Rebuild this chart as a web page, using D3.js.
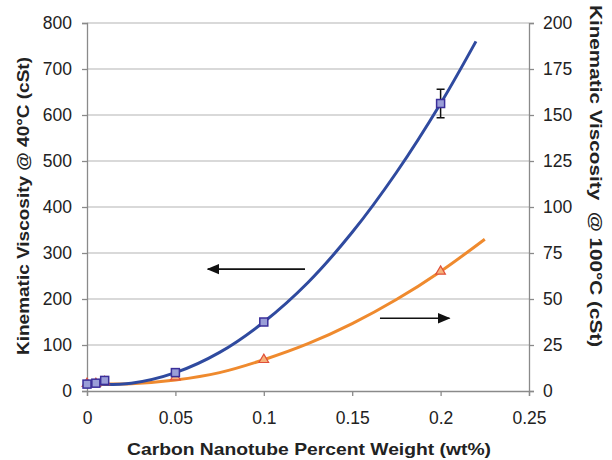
<!DOCTYPE html>
<html>
<head>
<meta charset="utf-8">
<script src="https://cdn.jsdelivr.net/npm/d3@7"></script>
<style>
  body { margin: 0; background: #fff; }
  text { font-family: "Liberation Sans", Arial, sans-serif; }
</style>
</head>
<body>
<div class="chart"></div>
<script>
// measured points
var wt = [0, 0.005, 0.01, 0.05, 0.1, 0.2];
var visc40 = [15, 17, 23, 40, 150, 625];
var visc100 = [4, 4, 5, 7.6, 17, 65];
var err40 = [0, 0, 0, 0, 0, 31];

// trend lines
var fit40x = [0, 0.025, 0.05, 0.075, 0.1, 0.125, 0.15, 0.175, 0.2, 0.22];
var fit40y = [15, 17, 40, 84, 150, 236, 345, 475, 625, 760];
var fit100x = [0, 0.025, 0.05, 0.075, 0.1, 0.125, 0.15, 0.175, 0.2, 0.225];
var fit100y = [4, 4, 6, 10, 17, 25.7, 36.6, 49.7, 65, 82.5];

var xTicks = [0, 0.05, 0.1, 0.15, 0.2, 0.25];
var yLeftTicks = [0, 100, 200, 300, 400, 500, 600, 700, 800];
var yRightTicks = [0, 25, 50, 75, 100, 125, 150, 175, 200];

var width = 612, height = 460;
var margin = {top: 23, right: 83, bottom: 69, left: 87};

var svg = d3.select(".chart").append("svg")
    .attr("width", width)
    .attr("height", height);

var x = d3.scaleLinear().domain([0, 0.25]).range([margin.left, width - margin.right]);
var yL = d3.scaleLinear().domain([0, 800]).range([height - margin.bottom, margin.top]);
var yR = d3.scaleLinear().domain([0, 200]).range([height - margin.bottom, margin.top]);

var blue = "#2f4a9f", orange = "#ef8a2e";

// gridlines
svg.append("g")
    .selectAll("line")
    .data(yLeftTicks.slice(1))
    .enter().append("line")
    .attr("x1", x(0)).attr("x2", x(0.25))
    .attr("y1", d => yL(d)).attr("y2", d => yL(d))
    .attr("stroke", "#cccccc").attr("stroke-width", 1.3);

// axes
var axisStyle = function (g) {
    g.select(".domain").attr("stroke", "#8a8a8a").attr("stroke-width", 1.3);
    g.selectAll(".tick line").attr("stroke", "#8a8a8a").attr("stroke-width", 1.3);
    g.selectAll(".tick text").attr("fill", "#222").style("font-size", "17.5px")
        .style("font-family", "'Liberation Sans', Arial, sans-serif");
};

svg.append("g")
    .attr("transform", "translate(0," + yL(0) + ")")
    .call(d3.axisBottom(x).tickValues(xTicks).tickFormat(d3.format("")).tickSizeOuter(0).tickSize(5).tickPadding(16))
    .call(axisStyle);

svg.append("g")
    .attr("transform", "translate(" + x(0) + ",0)")
    .call(d3.axisLeft(yL).tickValues(yLeftTicks).tickFormat(d3.format("d")).tickSizeOuter(0).tickSize(5).tickPadding(10))
    .call(axisStyle);

svg.append("g")
    .attr("transform", "translate(" + x(0.25) + ",0)")
    .call(d3.axisRight(yR).tickValues(yRightTicks).tickFormat(d3.format("d")).tickSizeOuter(0).tickSize(5).tickPadding(9))
    .call(axisStyle);

// axis titles
var titleStyle = function (t) {
    t.attr("text-anchor", "middle")
        .attr("lengthAdjust", "spacingAndGlyphs")
        .style("font-size", "16.5px").style("font-weight", "bold").attr("fill", "#222");
};

svg.append("text")
    .attr("x", 309)
    .attr("y", 455)
    .attr("textLength", 364)
    .call(titleStyle)
    .text("Carbon Nanotube Percent Weight (wt%)");

svg.append("text")
    .attr("transform", "translate(29,206) rotate(-90)")
    .attr("textLength", 298)
    .call(titleStyle)
    .text("Kinematic Viscosity @ 40°C (cSt)");

svg.append("text")
    .attr("transform", "translate(590,176) rotate(90)")
    .attr("textLength", 342)
    .attr("xml:space", "preserve")
    .style("white-space", "pre")
    .call(titleStyle)
    .text("Kinematic Viscosity  @ 100°C (cSt)");

// trend lines
var line40 = d3.line().x(d => x(d[0])).y(d => yL(d[1])).curve(d3.curveCatmullRom);
var line100 = d3.line().x(d => x(d[0])).y(d => yR(d[1])).curve(d3.curveCatmullRom);

svg.append("path")
    .datum(d3.zip(fit100x, fit100y))
    .attr("d", line100)
    .attr("fill", "none").attr("stroke", orange).attr("stroke-width", 3);

svg.append("path")
    .datum(d3.zip(fit40x, fit40y))
    .attr("d", line40)
    .attr("fill", "none").attr("stroke", blue).attr("stroke-width", 3);

// error bars
var eb = svg.append("g").selectAll("g")
    .data(d3.zip(wt, visc40, err40).filter(d => d[2] > 0))
    .enter().append("g")
    .attr("stroke", "#111").attr("stroke-width", 1.5);
eb.append("line")
    .attr("x1", d => x(d[0])).attr("x2", d => x(d[0]))
    .attr("y1", d => yL(d[1] - d[2])).attr("y2", d => yL(d[1] + d[2]));
eb.append("line")
    .attr("x1", d => x(d[0]) - 4).attr("x2", d => x(d[0]) + 4)
    .attr("y1", d => yL(d[1] - d[2])).attr("y2", d => yL(d[1] - d[2]));
eb.append("line")
    .attr("x1", d => x(d[0]) - 4).attr("x2", d => x(d[0]) + 4)
    .attr("y1", d => yL(d[1] + d[2])).attr("y2", d => yL(d[1] + d[2]));

// markers
var tri = d3.symbol().type(d3.symbolTriangle).size(40);
svg.append("g").selectAll("path")
    .data(d3.zip(wt, visc100))
    .enter().append("path")
    .attr("d", tri)
    .attr("transform", d => "translate(" + x(d[0]) + "," + yR(d[1]) + ")")
    .attr("fill", "#f6b27a").attr("stroke", "#e0503a").attr("stroke-width", 1.2);

svg.append("g").selectAll("rect")
    .data(d3.zip(wt, visc40))
    .enter().append("rect")
    .attr("x", d => x(d[0]) - 4).attr("y", d => yL(d[1]) - 4)
    .attr("width", 8).attr("height", 8)
    .attr("fill", "#9a9ed8").attr("stroke", "#3b2f9a").attr("stroke-width", 1.5);

// arrows pointing to each axis
svg.append("defs").append("marker")
    .attr("id", "head")
    .attr("viewBox", "0 0 12 10")
    .attr("refX", 11).attr("refY", 5)
    .attr("markerWidth", 8).attr("markerHeight", 7)
    .attr("orient", "auto")
    .append("path").attr("d", "M0,0L12,5L0,10Z").attr("fill", "#111");

svg.append("line")
    .attr("x1", x(0.1233)).attr("y1", yL(265))
    .attr("x2", x(0.0683)).attr("y2", yL(265))
    .attr("stroke", "#111").attr("stroke-width", 1.6)
    .attr("marker-end", "url(#head)");

svg.append("line")
    .attr("x1", x(0.1657)).attr("y1", yR(39.5))
    .attr("x2", x(0.2050)).attr("y2", yR(39.5))
    .attr("stroke", "#111").attr("stroke-width", 1.6)
    .attr("marker-end", "url(#head)");
</script>
</body>
</html>
